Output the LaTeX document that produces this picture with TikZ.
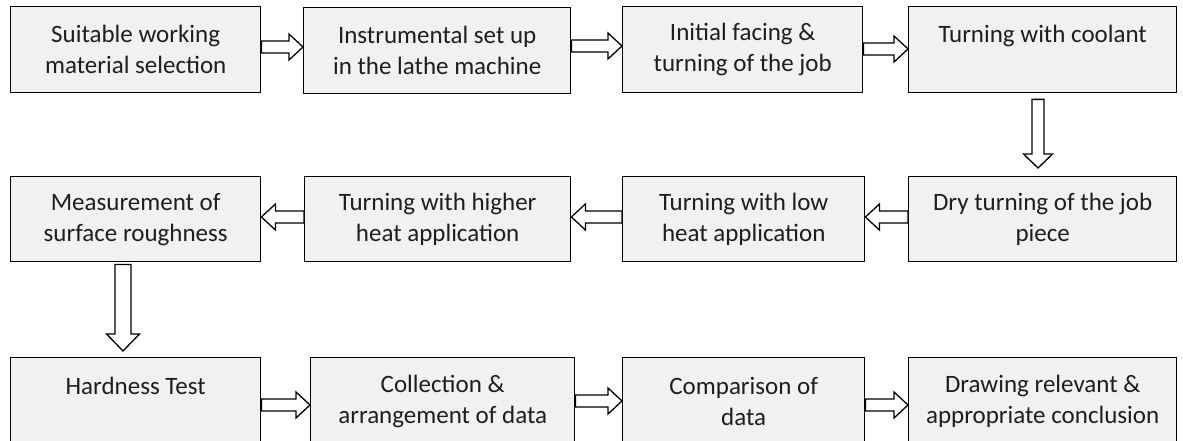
\documentclass[tikz,border=0pt]{standalone}
\usepackage{fontspec}
\setmainfont{Carlito}
\usetikzlibrary{calc}

\tikzset{
  stepbox/.style={draw=black, line width=1.4pt, fill=boxgrey, inner sep=0pt,
    text=textgrey, align=center, anchor=north west,
    font=\fontsize{25}{31}\selectfont},
  blockarrow/.style={draw=black, line width=1.3pt, fill=white, line join=miter}
}
\definecolor{boxgrey}{HTML}{F1F1F1}
\definecolor{textgrey}{HTML}{1E1E1E}

% box with its corners given as left, top, right, bottom
\newcommand\stepnode[6]{%
  \node[stepbox, minimum width=#4-#2, minimum height=#5-#3] (#1) at (#2,#3) {#6};}

% block arrows between two boxes: shaft half width, head half width, head length
\newcommand\rightblock[3]{%
  \draw[blockarrow] ($(#1.east|-0,#3)+(0,-6)$) -- ($(#2.west|-0,#3)+(-14,-6)$)
    -- ($(#2.west|-0,#3)+(-14,-13)$) -- (#2.west|-0,#3)
    -- ($(#2.west|-0,#3)+(-14,13)$) -- ($(#2.west|-0,#3)+(-14,6)$)
    -- ($(#1.east|-0,#3)+(0,6)$) -- cycle;}
\newcommand\leftblock[3]{%
  \draw[blockarrow] ($(#1.west|-0,#3)+(0,-6)$) -- ($(#2.east|-0,#3)+(14,-6)$)
    -- ($(#2.east|-0,#3)+(14,-13)$) -- (#2.east|-0,#3)
    -- ($(#2.east|-0,#3)+(14,13)$) -- ($(#2.east|-0,#3)+(14,6)$)
    -- ($(#1.west|-0,#3)+(0,6)$) -- cycle;}
% #4 gap below the upper box, #5 gap above the lower box, #6 shaft half, #7 head half, #8 head length
\newcommand\downblock[8]{%
  \draw[blockarrow] ($(#1.south-|#3,0)+(-#6,#4)$) -- ($(#2.north-|#3,0)+(-#6,-#5-#8)$)
    -- ($(#2.north-|#3,0)+(-#7,-#5-#8)$) -- ($(#2.north-|#3,0)+(0,-#5)$)
    -- ($(#2.north-|#3,0)+(#7,-#5-#8)$) -- ($(#2.north-|#3,0)+(#6,-#5-#8)$)
    -- ($(#1.south-|#3,0)+(#6,#4)$) -- cycle;}

\begin{document}
\begin{tikzpicture}[x=1pt, y=-1pt]
  \useasboundingbox (0,0) rectangle (1183,441);

  % first row
  \stepnode{s1}{10}{6}{260}{92}{Suitable working\\material selection}
  \stepnode{s2}{303}{7}{570}{93}{Instrumental set up\\in the lathe machine}
  \stepnode{s3}{622}{6}{862}{92}{Initial facing \&\\turning of the job}
  \stepnode{s4}{908}{6}{1176}{92}{Turning with coolant\\\mbox{}}

  % second row
  \stepnode{s5}{908}{176}{1176}{261}{Dry turning of the job\\piece}
  \stepnode{s6}{622}{176}{864}{261}{Turning with low\\heat application}
  \stepnode{s7}{304}{176}{570}{261}{Turning with higher\\heat application}
  \stepnode{s8}{10}{176}{260}{261}{Measurement of\\surface roughness}

  % third row
  \stepnode{s9}{10}{357}{260}{444}{Hardness Test\\\mbox{}}
  \stepnode{s10}{310}{357}{574}{444}{Collection \&\\arrangement of data}
  \stepnode{s11}{622}{357}{864}{444}{Comparison of\\data}
  \stepnode{s12}{908}{357}{1176}{444}{Drawing relevant \&\\appropriate conclusion}

  % connectors
  \rightblock{s1}{s2}{47}
  \rightblock{s2}{s3}{46}
  \rightblock{s3}{s4}{49}
  \downblock{s4}{s5}{1038}{6}{8}{6}{14.5}{14}
  \leftblock{s5}{s6}{217}
  \leftblock{s6}{s7}{217}
  \leftblock{s7}{s8}{217}
  \downblock{s8}{s9}{123}{2}{6}{8}{16.5}{17}
  \rightblock{s9}{s10}{405}
  \rightblock{s10}{s11}{401}
  \rightblock{s11}{s12}{405}
\end{tikzpicture}
\end{document}
